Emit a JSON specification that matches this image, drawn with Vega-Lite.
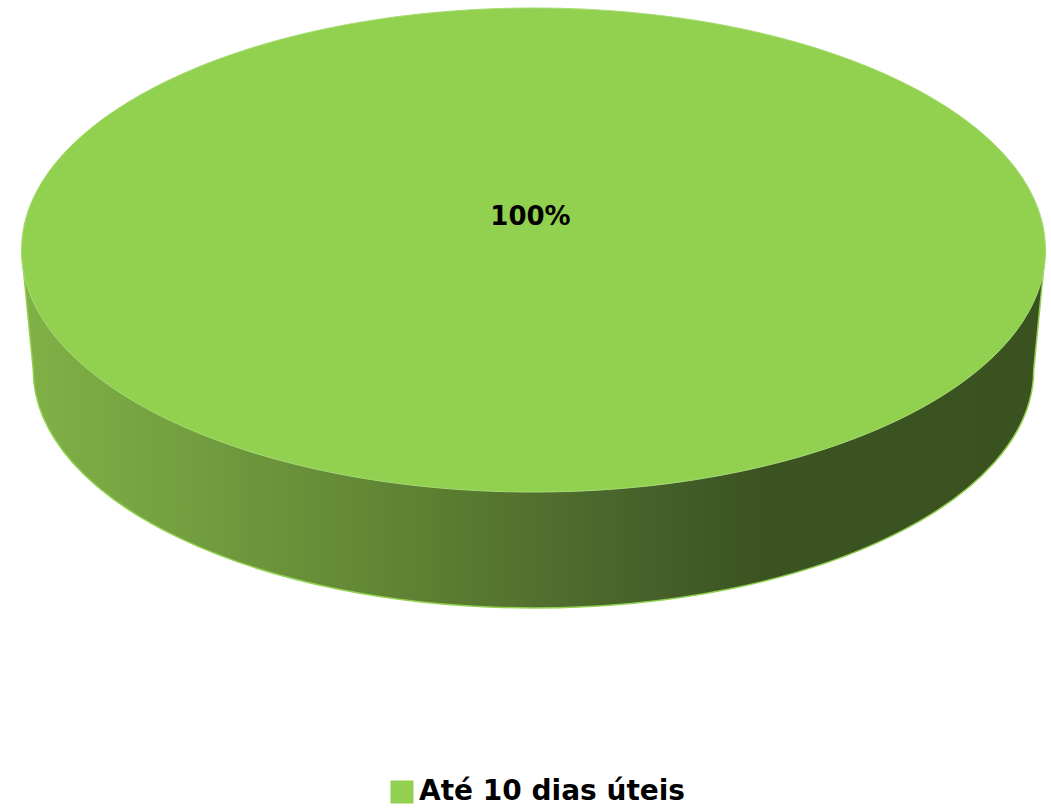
{
  "$schema": "https://vega.github.io/schema/vega-lite/v6.json",
  "autosize": "none",
  "padding": 0,
  "width": 1051,
  "height": 809,
  "background": "white",
  "config": {"view": {"stroke": null}},
  "data": {"values": [{"category": "Até 10 dias úteis", "value": 1.0}]},
  "layer": [
    {
      "mark": {
        "type": "point",
        "filled": true,
        "xOffset": 8,
        "yOffset": -154.5,
        "size": 1048576,
        "shape": "M -1 0 L -0.977 0.234 A 0.977 0.465 0 0 0 0.977 0.234 L 1 0 Z",
        "fill": {
          "gradient": "linear",
          "x1": 0, "y1": 0, "x2": 1, "y2": 0,
          "stops": [
            {"offset": 0, "color": "#80b146"},
            {"offset": 0.15, "color": "#74a040"},
            {"offset": 0.42, "color": "#5a7c31"},
            {"offset": 0.62, "color": "#45602a"},
            {"offset": 0.72, "color": "#3b5421"},
            {"offset": 1, "color": "#3a5220"}
          ]
        },
        "stroke": "#92d050",
        "strokeWidth": 1.5,
        "opacity": 1
      },
      "encoding": {}
    },
    {
      "mark": {
        "type": "point",
        "filled": true,
        "xOffset": 8,
        "yOffset": -154.5,
        "size": 1048576,
        "shape": "M -1 0 A 1 0.4727 0 1 0 1 0 A 1 0.4727 0 1 0 -1 0 Z",
        "stroke": "#a6dc74",
        "strokeWidth": 1,
        "opacity": 1
      },
      "encoding": {
        "color": {
          "field": "category",
          "type": "nominal",
          "scale": {"range": ["#92d050"]},
          "legend": {
            "title": null,
            "orient": "none",
            "legendX": 388,
            "legendY": 778,
            "symbolType": "square",
            "symbolSize": 529,
            "symbolStrokeWidth": 0,
            "labelFontSize": 28,
            "labelFont": "DejaVu Sans",
            "labelFontWeight": "bold",
            "labelColor": "#000000",
            "labelOffset": 3,
            "labelLimit": 0
          }
        }
      }
    },
    {
      "mark": {
        "type": "text",
        "dx": 5,
        "dy": -188,
        "font": "DejaVu Sans",
        "fontSize": 26,
        "fontWeight": "bold",
        "color": "#000000"
      },
      "encoding": {
        "text": {"field": "value", "type": "quantitative", "format": ".0%"}
      }
    }
  ]
}
